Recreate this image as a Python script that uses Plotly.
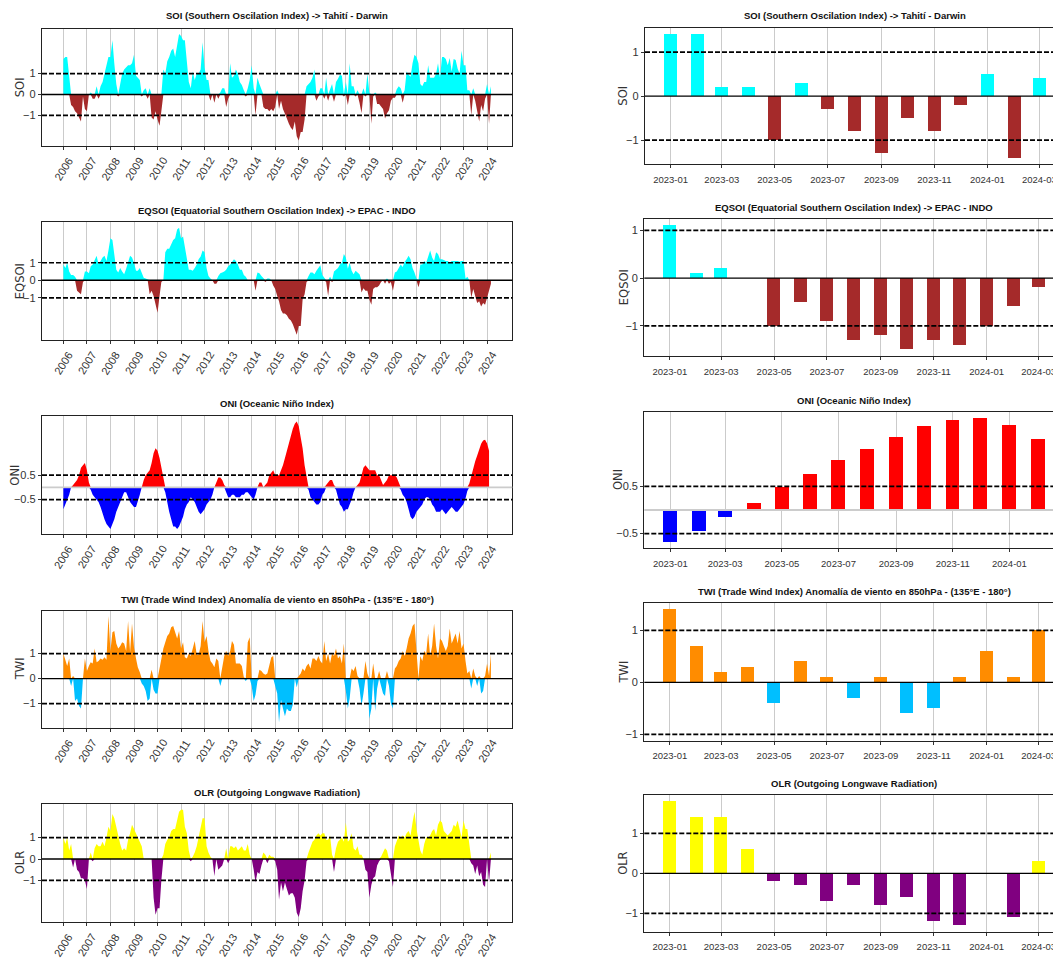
import pandas as pd
import plotly.graph_objects as go

# The page body has an 8px margin, so the figure is drawn 8px smaller and
# every page-pixel position is shifted by that offset.
PAGE_W, PAGE_H = 1061, 961
OFF = 8
W, H = PAGE_W - OFF, PAGE_H - OFF

# ---------------- data (monthly, 2006-01 .. 2024-03) ----------------
soi = [
    1.7, 1.8, 1.8, 1.0, -0.5, -0.6, -0.8, -0.9, -1.1, -1.3, -0.1, -0.7,   # 2006
    -0.8, 0.0, 0.1, -0.2, -0.2, 0.4, -0.2, 0.4, 0.6, 1.0, 1.4, 1.8,      # 2007
    1.8, 2.6, 1.5, 0.5, -0.1, 0.5, 1.0, 1.2, 1.3, 1.4, 1.4, 1.5,         # 2008
    1.9, 0.9, 0.8, 0.7, -0.1, 0.2, 0.3, -0.2, 0.3, -1.1, -1.2, -0.8,     # 2009
    -1.2, -1.5, -0.8, 1.2, 1.0, 1.6, 1.8, 2.1, 2.2, 1.8, 2.4, 2.9,       # 2010
    2.8, 2.6, 2.6, 1.6, 0.6, 0.3, 1.1, 0.7, 1.0, 1.0, 1.2, 2.5,          # 2011
    1.3, 0.7, 0.7, -0.3, 0.0, -0.4, 0.0, -0.2, 0.1, 0.3, 0.3, -0.6,      # 2012
    -0.2, 1.5, 0.8, 0.9, 1.2, 1.0, 0.6, 0.45, 0.2, -0.1, 0.3, 0.7,       # 2013
    1.4, 0.3, -1.0, 0.8, 0.5, 0.2, -0.6, -0.7, -0.7, -0.8, -0.7, -0.8,   # 2014
    -0.6, 0.2, -0.7, -0.3, -0.7, -0.9, -1.15, -1.4, -1.6, -1.7, -1.3, -2.0,  # 2015
    -2.2, -1.8, -1.8, -1.2, 0.4, 0.5, 0.6, 0.8, 1.2, -0.3, -0.1, 0.3,    # 2016
    0.3, -0.2, 0.8, -0.3, 0.3, 0.5, -0.35, 0.6, 0.75, 0.95, 0.9, -0.1,   # 2017
    0.6, -0.5, 1.5, 0.4, 0.4, -0.1, 0.2, -0.4, -0.9, 0.3, -0.1, 1.0,     # 2018
    0.1, -1.4, -0.1, 0.1, -0.45, -0.45, -0.6, -0.7, -1.15, -0.9, -0.75, -0.3,  # 2019
    -0.15, -0.15, 0.25, 0.4, 0.3, -0.4, 0.2, 1.1, 0.95, 0.85, 1.5, 1.9,  # 2020
    1.8, 1.5, 0.5, 0.4, 0.6, 0.6, 1.4, 0.8, 0.8, 0.8, 1.0, 1.5,          # 2021
    0.8, 1.8, 1.8, 1.7, 1.4, 1.75, 1.1, 1.7, 1.65, 1.25, 1.0, 2.1,       # 2022
    1.4, 1.4, 0.2, 0.2, -1.0, 0.3, -0.3, -0.8, -1.3, -0.5, -0.8, -0.2,   # 2023
    0.5, -1.4, 0.4,                                                      # 2024
]

eqsoi = [
    0.9, 0.7, 1.0, 0.5, 0.3, 0.3, 0.2, -0.6, -0.7, -0.8, -0.1, 0.5,      # 2006
    0.5, 0.4, 0.8, 0.9, 1.2, 1.4, 0.9, 1.1, 1.3, 1.4, 1.1, 1.7,          # 2007
    2.4, 2.3, 1.3, 0.6, 0.45, 0.7, 0.5, 0.35, 0.65, 1.0, 1.4, 1.3,       # 2008
    1.0, 0.55, 0.55, 0.7, 0.4, 0.15, 0.1, 0.05, -0.8, -0.6, -0.9, -1.3,  # 2009
    -1.85, -0.9, -0.1, 0.0, 1.6, 1.8, 1.8, 2.05, 2.3, 2.4, 2.9, 3.0,     # 2010
    2.4, 2.5, 1.9, 1.0, 0.6, 0.6, 0.55, 0.7, 0.9, 1.2, 1.35, 1.7,        # 2011
    1.6, 0.7, 0.25, 0.1, 0.0, -0.2, -0.2, 0.25, 0.4, 0.45, 0.5, 0.6,     # 2012
    0.8, 0.9, 1.05, 1.2, 1.1, 0.9, 0.6, 0.6, 0.3, 0.2, 0.0, 0.0,         # 2013
    0.0, 0.0, -0.6, 0.45, 0.4, 0.25, 0.15, -0.1, 0.1, 0.1, 0.0, -0.3,    # 2014
    -0.5, -0.9, -1.2, -1.7, -1.9, -1.9, -2.0, -2.2, -2.3, -2.5, -2.8, -3.1,  # 2015
    -2.6, -2.6, -1.1, -0.8, -0.1, 0.25, 0.45, 0.45, 0.35, 0.55, 0.7, 0.85,   # 2016
    0.3, 0.1, -0.1, -0.9, 0.2, -0.1, 0.5, 0.6, 0.7, 0.9, 1.0, 1.5,       # 2017
    1.3, 0.65, 1.0, 0.55, 0.35, 0.55, 0.45, 0.35, -0.7, -0.45, -0.6, -0.6,   # 2018
    -1.1, -1.4, -0.5, -0.4, -0.4, -0.3, -0.1, 0.0, -0.2, 0.1, -0.2, -0.1,    # 2019
    -0.6, 0.45, 0.5, 0.7, 0.9, 0.75, 1.05, 1.2, 1.4, 1.2, 0.7, 0.45,     # 2020
    0.1, -0.4, 0.9, 0.9, 1.1, 1.0, 1.3, 1.7, 1.3, 1.1, 1.6, 1.5,         # 2021
    1.2, 1.2, 1.15, 1.1, 1.1, 1.0, 1.1, 1.1, 1.1, 1.1, 1.05, 1.1,        # 2022
    1.1, 0.1, 0.2, 0.0, -1.0, -0.5, -0.9, -1.3, -1.2, -1.5, -1.3, -1.4,  # 2023
    -1.0, -0.6, -0.2,                                                    # 2024
]

oni = [
    -0.9, -0.7, -0.5, -0.3, 0.0, 0.1, 0.2, 0.3, 0.5, 0.8, 0.9, 1.0,      # 2006
    0.7, 0.2, -0.1, -0.3, -0.4, -0.5, -0.6, -0.8, -1.1, -1.3, -1.5, -1.6,    # 2007
    -1.7, -1.5, -1.3, -1.0, -0.8, -0.6, -0.4, -0.2, -0.2, -0.4, -0.6, -0.7,  # 2008
    -0.8, -0.8, -0.6, -0.3, 0.0, 0.3, 0.5, 0.6, 0.7, 1.0, 1.4, 1.6,      # 2009
    1.5, 1.2, 0.8, 0.4, -0.2, -0.7, -1.0, -1.3, -1.6, -1.6, -1.7, -1.6,  # 2010
    -1.4, -1.2, -0.9, -0.7, -0.6, -0.4, -0.5, -0.6, -0.8, -1.0, -1.1, -1.0,  # 2011
    -0.9, -0.7, -0.6, -0.5, -0.3, 0.0, 0.2, 0.4, 0.4, 0.3, 0.1, -0.2,    # 2012
    -0.4, -0.4, -0.3, -0.3, -0.4, -0.4, -0.4, -0.3, -0.3, -0.2, -0.2, -0.3,  # 2013
    -0.4, -0.5, -0.3, 0.0, 0.2, 0.2, 0.0, 0.1, 0.2, 0.5, 0.6, 0.7,       # 2014
    0.5, 0.5, 0.5, 0.7, 0.9, 1.2, 1.5, 1.9, 2.2, 2.4, 2.6, 2.7,          # 2015
    2.5, 2.1, 1.6, 0.9, 0.4, -0.1, -0.4, -0.5, -0.6, -0.7, -0.7, -0.6,   # 2016
    -0.3, -0.2, 0.1, 0.2, 0.3, 0.3, 0.1, -0.1, -0.4, -0.7, -0.8, -1.0,   # 2017
    -0.9, -0.9, -0.7, -0.5, -0.2, 0.0, 0.1, 0.2, 0.5, 0.8, 0.9, 0.8,     # 2018
    0.7, 0.7, 0.7, 0.7, 0.5, 0.5, 0.3, 0.1, 0.2, 0.3, 0.5, 0.5,          # 2019
    0.5, 0.5, 0.4, 0.2, -0.1, -0.3, -0.4, -0.6, -0.9, -1.2, -1.3, -1.2,  # 2020
    -1.0, -0.9, -0.8, -0.7, -0.5, -0.4, -0.4, -0.5, -0.7, -0.8, -1.0, -1.0,  # 2021
    -1.0, -0.9, -1.0, -1.1, -1.0, -0.9, -0.8, -0.9, -1.0, -1.0, -0.9, -0.8,  # 2022
    -0.68, -0.44, -0.15, 0.16, 0.49, 0.76, 1.07, 1.3, 1.55, 1.78, 1.92, 1.95,  # 2023
    1.8, 1.5,                                                            # 2024
]

twi = [
    1.0, 0.7, 0.5, 0.8, -0.3, 0.1, -0.9, -0.8, -1.1, -1.2, 0.0, 0.8,     # 2006
    0.3, 0.5, 0.65, 0.6, 1.2, 0.65, 0.7, 0.8, 0.75, 0.85, 0.75, 2.5,     # 2007
    1.1, 1.85, 1.9, 1.4, 1.2, 1.3, 1.45, 1.4, 1.1, 2.3, 1.05, 2.2,       # 2008
    1.25, 0.8, 0.45, 0.25, -0.2, -0.3, -0.5, -0.9, -0.8, 0.35, -0.45, -0.6,  # 2009
    -0.6, 0.4, 0.85, 1.2, 1.45, 1.7, 1.8, 2.05, 2.1, 1.8, 1.6, 1.9,      # 2010
    1.2, 1.45, 0.85, 0.8, 1.0, 0.9, 1.25, 1.5, 0.95, 0.95, 1.3, 2.3,     # 2011
    1.45, 1.7, 1.1, 0.7, 0.6, 0.45, 0.8, 0.7, -0.3, 0.45, 0.9, 1.1,      # 2012
    0.9, 1.1, 1.5, 1.35, 0.6, 0.6, 0.6, 0.5, 0.05, -0.1, 1.45, 1.65,     # 2013
    -0.3, -0.9, -0.65, -0.1, 0.35, 0.3, 0.2, 0.15, 0.2, 0.55, 0.85, 0.9, # 2014
    -0.3, -0.6, -1.75, -0.85, -1.2, -1.5, -1.2, -1.3, -1.3, -1.05, 0.0, -0.35,  # 2015
    0.1, 0.2, 0.4, 0.3, 0.5, 0.6, 0.4, 0.8, 0.8, 0.7, 0.9, 0.7,          # 2016
    0.6, 1.5, 0.7, 1.0, 0.6, 1.0, 0.9, 1.2, 0.8, 0.9, 0.6, 1.4,          # 2017
    -0.5, -1.2, -0.8, 0.4, 0.3, 0.5, 0.1, -0.4, -1.1, -0.6, 0.7, 0.2,    # 2018
    -1.6, -1.2, 0.6, -1.3, -0.4, 0.3, -0.3, -0.6, -0.7, 0.3, -0.3, -1.0, # 2019
    -1.2, 0.4, 0.5, 0.7, 0.8, 1.1, 0.9, 1.2, 1.6, 1.8, 2.1, 2.2,         # 2020
    1.2, -0.1, 0.9, 0.7, 1.1, 1.0, 1.8, 0.9, 1.3, 2.2, 1.3, 0.8,         # 2021
    1.6, 1.5, 1.3, 1.1, 1.3, 2.0, 1.4, 1.6, 1.8, 1.4, 1.9, 1.2,          # 2022
    1.4, 0.7, 0.2, 0.3, -0.4, 0.4, 0.1, -0.3, 0.1, -0.6, -0.5, 0.1,      # 2023
    0.6, 0.1, 1.0,                                                       # 2024
]

olr = [
    1.0, 0.7, 1.0, 0.4, 0.7, -0.4, 0.0, -0.5, -0.6, -0.9, -0.9, -1.0,    # 2006
    -1.4, 0.0, 0.3, -0.1, 0.5, 0.7, 0.6, 0.6, 0.8, 0.6, 1.0, 1.5,        # 2007
    1.3, 2.1, 1.9, 1.5, 1.0, 0.7, 0.4, 0.5, 0.4, 0.9, 1.2, 1.6,          # 2008
    1.4, 1.2, 1.0, 0.8, 0.6, 0.0, 0.0, 0.0, 0.0, 0.0, -1.8, -2.6,        # 2009
    -2.3, -2.3, -1.0, 0.2, 0.7, 0.9, 1.0, 1.3, 1.4, 1.4, 1.8, 2.2,       # 2010
    2.3, 2.3, 1.5, 1.2, 0.4, -0.1, 0.1, 0.3, 0.6, 1.0, 1.5, 1.9,         # 2011
    1.9, 0.6, 0.3, 0.1, 0.0, -0.8, 0.0, -0.5, -0.4, -0.3, 0.0, 0.5,      # 2012
    -0.2, 0.6, 0.6, 0.5, 0.6, 0.4, 0.5, 0.6, 0.4, 0.4, 0.7, 0.2,         # 2013
    0.0, -0.5, -1.1, -0.6, -0.7, -0.3, 0.3, 0.2, -0.2, 0.2, 0.1, 0.1,    # 2014
    -0.1, -0.5, -1.9, -1.1, -1.5, -1.1, -1.4, -1.7, -1.6, -1.6, -1.8, -2.5,  # 2015
    -2.7, -2.3, -1.5, -1.0, -0.1, 0.3, 0.6, 0.8, 0.9, 1.1, 1.2, 1.1,     # 2016
    1.2, 1.2, 0.9, 0.9, 1.1, 0.2, -0.6, 0.5, 0.8, 0.9, 1.0, 0.8,         # 2017
    1.7, 0.8, 0.9, 1.2, 0.5, 0.4, 0.6, 0.2, 0.2, 0.0, -0.5, -0.6,        # 2018
    -1.8, -1.2, -0.9, -0.8, -0.3, -0.1, 0.1, 0.3, 0.5, 0.4, -0.1, -0.6,  # 2019
    -1.3, 0.6, 0.9, 1.1, 1.0, 1.1, 1.0, 1.2, 1.3, 1.1, 1.7, 2.2,         # 2020
    1.4, 0.9, 0.4, 0.2, 0.7, 1.0, 1.0, 1.1, 1.3, 1.4, 1.1, 1.6,          # 2021
    1.8, 1.7, 1.3, 1.2, 1.1, 1.2, 1.3, 1.6, 1.5, 1.8, 1.4, 1.0,          # 2022
    1.8, 1.4, 1.4, 0.6, -0.2, -0.3, -0.7, -0.3, -0.8, -0.6, -1.2, -1.3,  # 2023
    0.0, -1.1, 0.3,                                                      # 2024
]

titles = [
    "SOI (Southern Oscilation Index) -> Tahití - Darwin",
    "EQSOI (Equatorial Southern Oscilation Index) -> EPAC - INDO",
    "ONI (Oceanic Niño Index)",
    "TWI (Trade Wind Index) Anomalía de viento en 850hPa - (135°E - 180°)",
    "OLR (Outgoing Longwave Radiation)",
]
short_names = ["SOI", "EQSOI", "ONI", "TWI", "OLR"]
series = [soi, eqsoi, oni, twi, olr]
pos_colors = ["#00FFFF", "#00FFFF", "#FF0000", "#FF8C00", "#FFFF00"]
neg_colors = ["#A52A2A", "#A52A2A", "#0000FF", "#00BFFF", "#800080"]
thresholds = [1.0, 1.0, 0.5, 1.0, 1.0]
zero_colors = ["black", "black", "#CCCCCC", "black", "black"]
n_recent = [15, 15, 14, 15, 15]
year_labels = [str(y) for y in range(2006, 2025)]

# ---------------- layout geometry (page pixels) ----------------
LEFT_X = (42, 512.3)
LEFT_Y = [(28.7, 145.7), (222.3, 340.0), (416.0, 534.3), (610.7, 727.7), (804.3, 922.3)]
RIGHT_X0 = [645.0, 644.3, 644.3, 644.3, 644.3]
RIGHT_FULLW = 420.0
RIGHT_Y = [(28.3, 164.0), (219.3, 356.0), (411.7, 548.3), (603.3, 740.7), (795.0, 931.7)]
LEFT_TITLE_Y = [15, 210, 404, 599, 792.7]
RIGHT_TITLE_Y = [15.5, 207.7, 400, 591.7, 783.5]
LEFT_YTITLE_X = [20, 20, 15.5, 20, 20]
RIGHT_YTITLE_X = [623.5, 623.5, 618, 623.5, 623.5]

NARROW = "Liberation Sans Narrow, Liberation Sans, Arial, sans-serif"
WIDE = "DejaVu Sans, Verdana, sans-serif"
DAY = pd.Timedelta(days=1)

dates = pd.date_range("2006-01-01", periods=len(soi), freq="MS")


def fx(px):
    return (px - OFF) / W


def fy(py):
    return 1 - (py - OFF) / H


def suffix(n):
    return "" if n == 1 else str(n)


fig = go.Figure()
layout = dict(width=W, height=H, margin=dict(l=0, r=0, t=0, b=0), autosize=False,
              plot_bgcolor="white", paper_bgcolor="white", showlegend=False)
shapes, annotations = [], []

l_span = dates[-1] - dates[0]
l_range = [dates[0] - 0.05 * l_span, dates[-1] + 0.05 * l_span]
year_ticks = [pd.Timestamp(f"{y}-01-01") for y in year_labels]

for i in range(5):
    vals = series[i]
    d = dates[:len(vals)]
    thr = thresholds[i]
    nl, nr = 2 * i + 1, 2 * i + 2
    xl, yl = "x" + suffix(nl), "y" + suffix(nl)
    xr, yr = "x" + suffix(nr), "y" + suffix(nr)

    # ---- left: long series as filled areas ----
    pos = [v if v >= 0 else 0 for v in vals]
    neg = [v if v < 0 else 0 for v in vals]
    for yv, c in ((pos, pos_colors[i]), (neg, neg_colors[i])):
        fig.add_trace(go.Scatter(x=d, y=yv, mode="lines", fill="tozeroy",
                                 line=dict(width=0, color=c), fillcolor=c,
                                 xaxis=xl, yaxis=yl, hoverinfo="skip"))
    lo = min(min(vals), -thr, 0)
    hi = max(max(vals), thr, 0)
    pad = 0.05 * (hi - lo)
    t, b = LEFT_Y[i]
    tickvals = [-thr, thr] if thr == 0.5 else [-thr, 0, thr]
    ticktext = ["−0.5", "0.5"] if thr == 0.5 else ["−1", "0", "1"]
    layout["xaxis" + suffix(nl)] = dict(
        domain=[fx(LEFT_X[0]), fx(LEFT_X[1])], anchor=yl, type="date", range=l_range,
        tickvals=year_ticks, showticklabels=False, ticks="outside", ticklen=3,
        tickcolor="#333", showgrid=True, gridcolor="rgba(190,190,190,0.8)", gridwidth=1,
        showline=True, mirror=True, linecolor="#222", linewidth=1.3, zeroline=False)
    layout["yaxis" + suffix(nl)] = dict(
        domain=[fy(b), fy(t)], anchor=xl, range=[lo - pad, hi + pad],
        tickvals=tickvals, ticktext=ticktext, ticks="outside", ticklen=3, tickcolor="#333",
        tickfont=dict(family=NARROW, size=11, color="#333"),
        showgrid=False, zeroline=False, showline=True, mirror=True,
        linecolor="#222", linewidth=1.3)
    shapes.append(dict(type="line", xref=xl + " domain", x0=0, x1=1, yref=yl, y0=0, y1=0,
                       line=dict(color=zero_colors[i], width=1.3 if thr == 1 else 1.8),
                       layer="above"))
    for s in (-thr, thr):
        shapes.append(dict(type="line", xref=xl + " domain", x0=0, x1=1, yref=yl, y0=s, y1=s,
                           line=dict(color="black", width=1.7, dash="5px,2px"), layer="above"))
    for lab, tv in zip(year_labels, year_ticks):
        annotations.append(dict(text=lab, x=tv, xref=xl, y=fy(b + 23), yref="paper",
                                xanchor="center", yanchor="middle", textangle=-58,
                                showarrow=False,
                                font=dict(family=NARROW, size=11, color="#333")))
    annotations.append(dict(text="<b>" + titles[i] + "</b>", x=fx(sum(LEFT_X) / 2),
                            y=fy(LEFT_TITLE_Y[i]), xref="paper", yref="paper",
                            xanchor="center", yanchor="middle", showarrow=False,
                            font=dict(family=NARROW, size=9.5, color="#111")))
    annotations.append(dict(text=short_names[i], x=fx(LEFT_YTITLE_X[i]), y=fy((t + b) / 2),
                            xref="paper", yref="paper", xanchor="center", yanchor="middle",
                            textangle=-90, showarrow=False,
                            font=dict(family=WIDE, size=11.5, color="#333")))

    # ---- right: last months as bars ----
    rv = vals[-n_recent[i]:]
    rd = d[-n_recent[i]:]
    fig.add_trace(go.Bar(x=rd, y=rv, width=15 * 86400000,
                         marker=dict(color=[pos_colors[i] if v >= 0 else neg_colors[i] for v in rv],
                                     line=dict(width=0)),
                         xaxis=xr, yaxis=yr, hoverinfo="skip"))
    a0 = rd[0] - 7.5 * DAY
    a1 = rd[-1] + 7.5 * DAY
    sp = a1 - a0
    full0 = a0 - 0.05 * sp
    full1 = a1 + 0.05 * sp
    x0px = RIGHT_X0[i]
    frac = (PAGE_W - x0px) / RIGHT_FULLW
    r_range = [full0, full0 + (full1 - full0) * frac]
    rlo = min(min(rv), -thr, 0)
    rhi = max(max(rv), thr, 0)
    rpad = 0.05 * (rhi - rlo)
    t, b = RIGHT_Y[i]
    layout["xaxis" + suffix(nr)] = dict(
        domain=[fx(x0px), 1.0], anchor=yr, type="date", range=r_range,
        tickvals=list(rd[::2]), tickformat="%Y-%m", ticks="outside", ticklen=3,
        tickcolor="#333", ticklabelstandoff=3,
        tickfont=dict(family=NARROW, size=9.5, color="#333"),
        showgrid=True, gridcolor="rgba(190,190,190,0.8)", gridwidth=1,
        showline=True, mirror=True, linecolor="#222", linewidth=1.3, zeroline=False)
    layout["yaxis" + suffix(nr)] = dict(
        domain=[fy(b), fy(t)], anchor=xr, range=[rlo - rpad, rhi + rpad],
        tickvals=tickvals, ticktext=ticktext, ticks="outside", ticklen=3, tickcolor="#333",
        tickfont=dict(family=NARROW, size=11, color="#333"),
        showgrid=False, zeroline=False, showline=True, mirror=False,
        linecolor="#222", linewidth=1.3)
    shapes.append(dict(type="line", xref=xr + " domain", x0=0, x1=1, yref=yr, y0=0, y1=0,
                       line=dict(color=zero_colors[i], width=1.3 if thr == 1 else 1.8),
                       layer="above"))
    for s in (-thr, thr):
        shapes.append(dict(type="line", xref=xr + " domain", x0=0, x1=1, yref=yr, y0=s, y1=s,
                           line=dict(color="black", width=1.7, dash="5px,2px"), layer="above"))
    annotations.append(dict(text="<b>" + titles[i] + "</b>", x=fx(x0px + RIGHT_FULLW / 2),
                            y=fy(RIGHT_TITLE_Y[i]), xref="paper", yref="paper",
                            xanchor="center", yanchor="middle", showarrow=False,
                            font=dict(family=NARROW, size=9.5, color="#111")))
    annotations.append(dict(text=short_names[i], x=fx(RIGHT_YTITLE_X[i]), y=fy((t + b) / 2),
                            xref="paper", yref="paper", xanchor="center", yanchor="middle",
                            textangle=-90, showarrow=False,
                            font=dict(family=WIDE, size=11.5, color="#333")))

layout["shapes"] = shapes
layout["annotations"] = annotations
layout["bargap"] = 0
fig.update_layout(**layout)
fig.write_html("out.html")
